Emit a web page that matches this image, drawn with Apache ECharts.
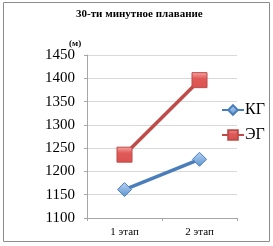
<!DOCTYPE html>
<html><head><meta charset="utf-8">
<script src="https://cdn.jsdelivr.net/npm/echarts@6/dist/echarts.min.js"></script>
<style>html,body{margin:0;padding:0;background:#fff}#c{width:273px;height:246px}</style>
</head><body><div id="c"></div>
<script>
var categories = ['1 этап', '2 этап'];
var seriesNames = ['КГ', 'ЭГ'];
var kgValues = [1161, 1226];
var egValues = [1236, 1396];
var yTicks = [1100, 1150, 1200, 1250, 1300, 1350, 1400, 1450];

var chart = echarts.init(document.getElementById('c'), null, {renderer: 'canvas'});
var serif = '"Liberation Serif", "DejaVu Serif", serif';
chart.setOption({
  animation: false,
  title: {
    text: '30-ти минутное плавание', left: 76, top: 9, padding: 0,
    textStyle: {fontFamily: serif, fontSize: 11, fontWeight: 'bold', color: '#000'}
  },
  graphic: [
    {type: 'rect', shape: {x: 3.5, y: 2.5, width: 266, height: 239}, style: {fill: 'none', stroke: '#8c8c8c', lineWidth: 1}, silent: true},
    {type: 'text', left: 69, top: 39, style: {text: '(м)', font: 'bold 9px ' + serif, fill: '#000'}}
  ],
  legend: {
    orient: 'vertical', left: 221, top: 102, itemGap: 9, padding: 0,
    itemWidth: 22, itemHeight: 12,
    textStyle: {fontFamily: serif, fontSize: 16, color: '#000', padding: [0, 0, 0, -4]},
    data: seriesNames
  },
  grid: {left: 87, top: 55, width: 150, height: 163, containLabel: false},
  xAxis: {
    type: 'category', data: categories, boundaryGap: true,
    axisLine: {lineStyle: {color: '#a6a6a6', width: 1}},
    axisTick: {show: true, length: 3, lineStyle: {color: '#a6a6a6'}},
    axisLabel: {fontFamily: serif, fontSize: 11, color: '#000', margin: 9},
    splitLine: {show: false}
  },
  yAxis: {
    type: 'value', min: yTicks[0], max: yTicks[yTicks.length - 1], interval: 50,
    axisLine: {show: true, lineStyle: {color: '#a6a6a6', width: 1}},
    axisTick: {show: true, length: 3, lineStyle: {color: '#a6a6a6'}},
    axisLabel: {fontFamily: serif, fontSize: 15, color: '#000', margin: 12, formatter: function (v) { return String(v); }},
    splitLine: {lineStyle: {color: '#d9d9d9', width: 1}}
  },
  series: [
    {
      name: seriesNames[0], type: 'line', data: kgValues,
      symbol: 'diamond', symbolSize: 14,
      lineStyle: {color: '#4a7ebb', width: 3.5},
      itemStyle: {
        color: new echarts.graphic.LinearGradient(0, 0, 0, 1, [{offset: 0, color: '#b9d3f0'}, {offset: 1, color: '#5b93d3'}]),
        borderColor: '#4a7ebb', borderWidth: 1
      }
    },
    {
      name: seriesNames[1], type: 'line', data: egValues,
      symbol: 'rect', symbolSize: 15,
      lineStyle: {color: '#be4b48', width: 3.5},
      itemStyle: {
        color: new echarts.graphic.LinearGradient(0, 0, 0, 1, [{offset: 0, color: '#f4a9a7'}, {offset: 0.4, color: '#e05a57'}, {offset: 1, color: '#d9524f'}]),
        borderColor: '#be4b48', borderWidth: 1
      }
    }
  ]
});
</script></body></html>
